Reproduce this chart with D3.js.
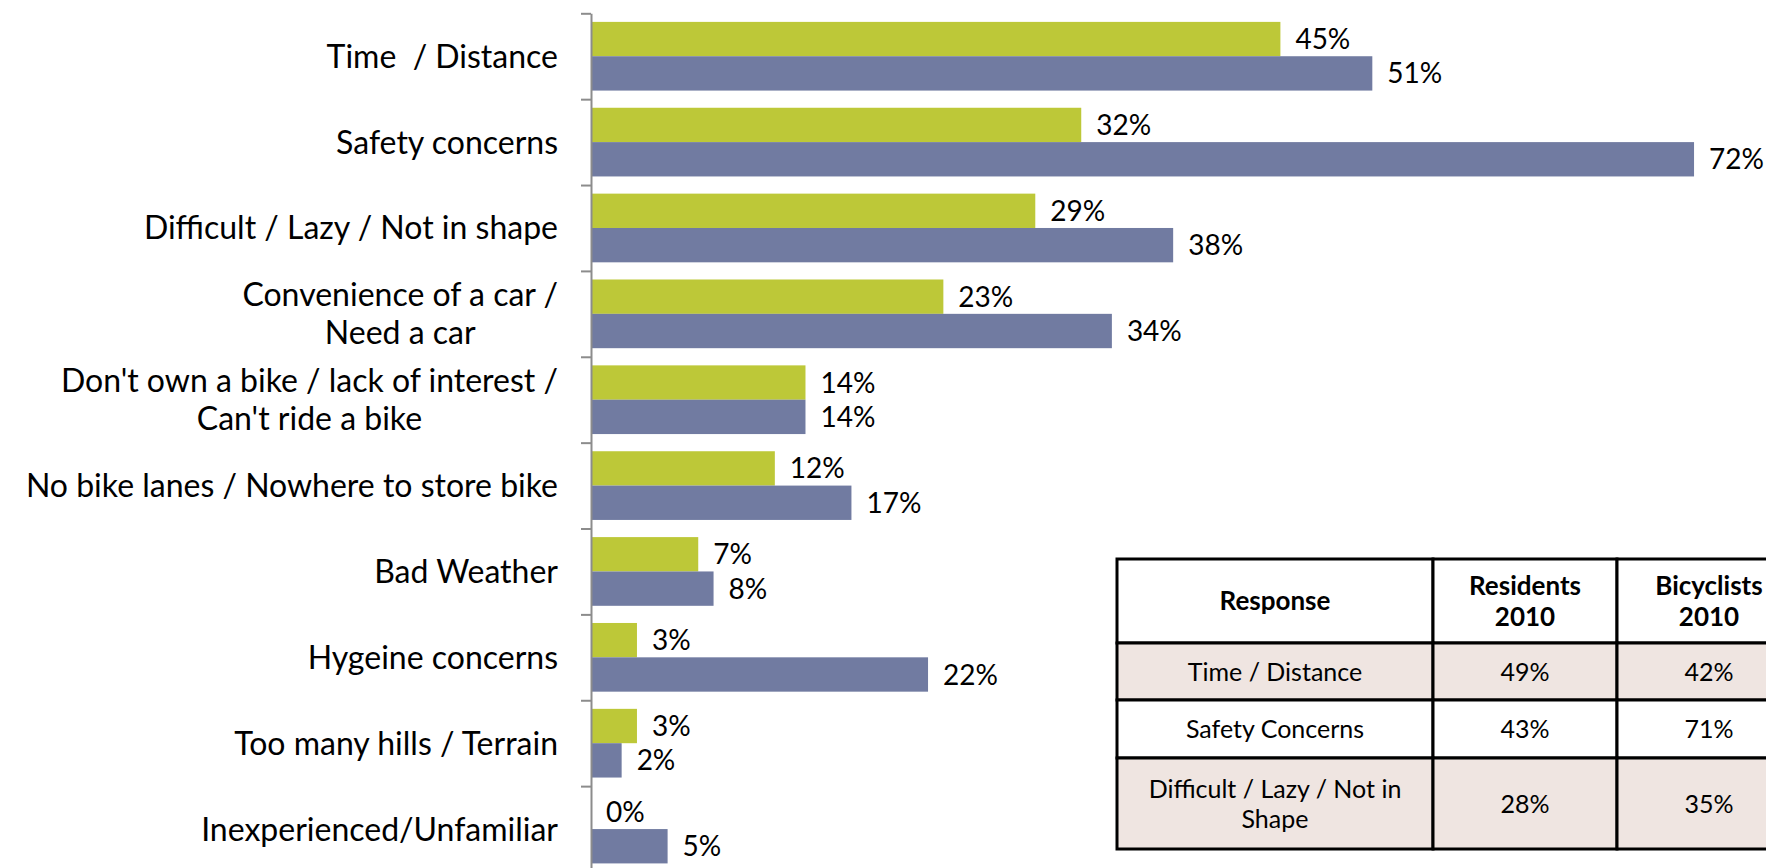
<!DOCTYPE html>
<html>
<head>
<meta charset="utf-8">
<script src="https://cdn.jsdelivr.net/npm/d3@7"></script>
<style>
  body { margin: 0; background: #fff; }
  text { font-family: 'Lato', sans-serif; fill: #000; white-space: pre; }
</style>
</head>
<body>
<div id="chart"></div>
<script>
var categories = [
    ['Time  / Distance'],
    ['Safety concerns'],
    ['Difficult / Lazy / Not in shape'],
    ['Convenience of a car /', 'Need a car'],
    ["Don't own a bike / lack of interest /", "Can't ride a bike"],
    ['No bike lanes / Nowhere to store bike'],
    ['Bad Weather'],
    ['Hygeine concerns'],
    ['Too many hills / Terrain'],
    ['Inexperienced/Unfamiliar']
];
var greenValues = [45, 32, 29, 23, 14, 12, 7, 3, 3, 0];
var blueValues = [51, 72, 38, 34, 14, 17, 8, 22, 2, 5];

var tableHeader = [['Response'], ['Residents', '2010'], ['Bicyclists', '2010']];
var tableResponses = [['Time / Distance'], ['Safety Concerns'], ['Difficult / Lazy / Not in', 'Shape']];
var residents2010 = [49, 43, 28];
var bicyclists2010 = [42, 71, 35];

var colors = ['#bdc838', '#717ba1'];

var svg = d3.select('#chart').append('svg')
    .attr('width', 1766)
    .attr('height', 868);

var x = d3.scaleLinear()
    .domain([0, 80])
    .range([591, 591 + 80 * 15.32]);

var y = d3.scaleBand()
    .domain(d3.range(categories.length))
    .range([13.3, 872])
    .paddingInner(0.2)
    .paddingOuter(0.1);

// band boundaries for the tick marks
var yEdges = d3.scaleLinear()
    .domain([0, categories.length])
    .range([13.3, 872]);

var barH = y.bandwidth() / 2;

var rows = d3.range(categories.length).map(function(i) {
    return { i: i, vals: [greenValues[i], blueValues[i]] };
});

var groups = svg.selectAll('.cat')
    .data(rows)
    .enter()
    .append('g')
    .attr('class', 'cat');

groups.selectAll('rect')
    .data(function(d) {
        return d.vals.map(function(v, k) { return { i: d.i, k: k, v: v }; });
    })
    .enter()
    .append('rect')
    .attr('x', x(0))
    .attr('y', function(d) { return y(d.i) + d.k * barH; })
    .attr('width', function(d) { return x(d.v) - x(0); })
    .attr('height', barH)
    .attr('fill', function(d) { return colors[d.k]; });

groups.selectAll('.val')
    .data(function(d) {
        return d.vals.map(function(v, k) { return { i: d.i, k: k, v: v }; });
    })
    .enter()
    .append('text')
    .attr('class', 'val')
    .attr('x', function(d) { return x(d.v) + 15; })
    .attr('y', function(d) { return y(d.i) + d.k * barH + barH / 2; })
    .attr('dy', '0.36em')
    .attr('font-size', 28)
    .text(function(d) { return d.v + '%'; });

// axis line with ticks between categories
var axis = svg.append('g')
    .attr('transform', 'translate(' + x(0) + ',0)')
    .call(d3.axisLeft(yEdges)
        .tickValues(d3.range(categories.length + 1))
        .tickFormat('')
        .tickSizeInner(10)
        .tickSizeOuter(0));
axis.selectAll('path, line')
    .attr('stroke', '#8c8c8c')
    .attr('stroke-width', 2);

// category labels, lines centred on each other, block right-aligned
var labelRight = 558;
var lineGap = 38;
categories.forEach(function(lines, i) {
    var g = svg.append('g');
    var texts = g.selectAll('text')
        .data(lines)
        .enter()
        .append('text')
        .attr('font-size', 32)
        .attr('text-anchor', 'middle')
        .attr('dy', '0.36em')
        .attr('y', function(d, j) {
            return y(i) + y.bandwidth() / 2 + (j - (lines.length - 1) / 2) * lineGap;
        })
        .text(function(d) { return d; });
    var w = d3.max(texts.nodes(), function(n) { return n.getComputedTextLength(); });
    texts.attr('x', labelRight - w / 2);
});

// table
var colX = [1117, 1433, 1617, 1801];
var rowY = [559, 643, 700, 758, 849];
var tableRows = [tableHeader].concat(tableResponses.map(function(r, i) {
    return [r, [residents2010[i] + '%'], [bicyclists2010[i] + '%']];
}));

var table = svg.append('g');

tableRows.forEach(function(cells, r) {
    cells.forEach(function(lines, c) {
        table.append('rect')
            .attr('x', colX[c])
            .attr('y', rowY[r])
            .attr('width', colX[c + 1] - colX[c])
            .attr('height', rowY[r + 1] - rowY[r])
            .attr('fill', r % 2 == 1 ? '#efe5e1' : '#fff')
            .attr('stroke', '#000')
            .attr('stroke-width', 3);

        var cy = (rowY[r] + rowY[r + 1]) / 2;
        var gap = r == 0 ? 31 : 30;
        table.selectAll(null)
            .data(lines)
            .enter()
            .append('text')
            .attr('x', (colX[c] + colX[c + 1]) / 2)
            .attr('y', function(d, j) { return cy + (j - (lines.length - 1) / 2) * gap; })
            .attr('dy', '0.36em')
            .attr('text-anchor', 'middle')
            .attr('font-size', r == 0 ? 26 : 25)
            .attr('font-weight', r == 0 ? 'bold' : 'normal')
            .text(function(d) { return d; });
    });
});
</script>
</body>
</html>
